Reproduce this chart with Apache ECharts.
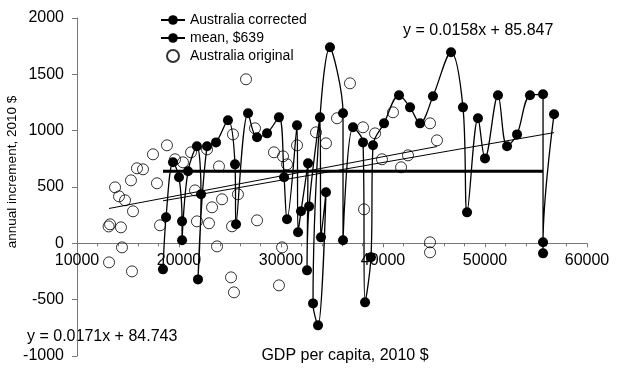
<!DOCTYPE html>
<html>
<head>
<meta charset="utf-8">
<script src="https://cdn.jsdelivr.net/npm/echarts@6/dist/echarts.min.js"></script>
<style>
html,body{margin:0;padding:0;background:#fff;}
#chart{width:618px;height:373px;}
</style>
</head>
<body>
<div id="chart"></div>
<script>
// ---- data ----
const correctedX = [18430,18730,19410,20000,20300,20300,20880,21760,22160,21860,22750,23630,24800,25490,25590,26770,27650,28630,29800,30300,30590,31570,31670,31960,32650,32550,32750,33820,33920,34410,33630,33140,34800,36080,36080,37060,38040,38240,38820,39020,40100,41570,42650,43630,44900,46670,47840,48240,49310,50000,51270,52160,53140,54410,55690,55690,55690,56770];
const correctedY = [-231,231,719,586,195,27,639,861,435,-320,861,896,1092,701,169,1154,941,976,1118,586,213,1047,98,284,710,-240,328,1118,53,453,-728,-533,1740,1154,27,1030,896,-524,-124,870,1065,1314,1207,1065,1305,1696,1207,275,1110,754,1314,861,967,1314,1323,-89,9,1145];
const originalX = [13140,13100,13240,13730,14120,14310,14410,14710,15290,15390,15490,15880,16470,17450,17840,18140,18820,19610,20390,21180,21570,21760,22750,22940,23240,23730,23920,24220,25200,25290,25100,25390,25780,26570,27450,27650,29310,30200,30590,30100,29800,31570,33430,34410,35490,36760,38040,39220,38140,39900,40980,41770,42450,44610,45290,44610,44610];
const originalY = [-169,150,169,497,417,142,-36,382,559,-249,284,666,657,790,533,160,870,746,719,808,470,195,834,178,320,-27,683,391,151,967,-302,-435,435,1456,1021,204,808,772,701,-36,-373,870,985,888,1110,1420,1030,976,302,746,1163,675,781,1065,914,9,-80];
const meanValue = 639;
const meanRange = [18430, 55690];
const trendCorrected = {slope: 0.0158, intercept: 85.847, range: [18430, 56770], label: 'y = 0.0158x + 85.847'};
const trendOriginal = {slope: 0.0171, intercept: 84.743, range: [13140, 45290], label: 'y = 0.0171x + 84.743'};
const xTicks = {min: 10000, max: 60000, interval: 10000};
const yTicks = {min: -1000, max: 2000, interval: 500};
const legendNames = ['Australia corrected', 'mean, $639', 'Australia original'];

const pairs = (xs, ys) => xs.map((x, i) => [x, ys[i]]);
const trendPts = t => t.range.map(x => [x, t.slope * x + t.intercept]);

const FONT = 'Liberation Sans, Arial, sans-serif';
const GRID = {left: 77, right: 31, top: 18, bottom: 17};
const plotH = 373 - GRID.top - GRID.bottom;
// distance (px) from the bottom of the plot up to the y = 0 line, from the y scale
const zeroOffset = plotH * (0 - yTicks.min) / (yTicks.max - yTicks.min);

const chart = echarts.init(document.getElementById('chart'), null, {renderer: 'canvas'});
chart.setOption({
  animation: false,
  backgroundColor: '#fff',
  grid: Object.assign({containLabel: false, outerBoundsMode: 'none'}, GRID),
  legend: {
    data: legendNames,
    orient: 'vertical',
    left: 155, top: 8,
    itemWidth: 24, itemHeight: 12, itemGap: 4,
    textStyle: {fontFamily: FONT, fontSize: 14, color: '#000'}
  },
  xAxis: {
    type: 'value', min: xTicks.min, max: xTicks.max, interval: xTicks.interval,
    position: 'bottom', offset: -zeroOffset,
    splitLine: {show: false},
    axisLine: {onZero: false, lineStyle: {color: '#777', width: 1}},
    axisTick: {show: true, length: 4, lineStyle: {color: '#777'}},
    minorTick: {show: true, splitNumber: 5, length: 3, lineStyle: {color: '#777'}},
    axisLabel: {fontFamily: FONT, fontSize: 16, color: '#000', margin: 9, formatter: v => String(v)},
    name: 'GDP per capita, 2010 $', nameLocation: 'middle', nameGap: 104, nameMoveOverlap: false,
    nameTextStyle: {fontFamily: FONT, fontSize: 16, color: '#000', padding: [0,0,0,26]}
  },
  yAxis: {
    type: 'value', min: yTicks.min, max: yTicks.max, interval: yTicks.interval,
    splitLine: {show: false},
    axisLine: {show: true, onZero: false, lineStyle: {color: '#777', width: 1}},
    axisTick: {show: true, length: 5, lineStyle: {color: '#777'}},
    axisLabel: {fontFamily: FONT, fontSize: 16, color: '#000', margin: 13, formatter: v => String(v)},
    name: 'annual increment, 2010 $', nameLocation: 'middle', nameGap: 58, nameMoveOverlap: false,
    nameTextStyle: {fontFamily: FONT, fontSize: 13.5, color: '#000', padding: [0,0,0,30]}
  },
  series: [
    {
      name: legendNames[0], type: 'line', data: pairs(correctedX, correctedY),
      smooth: 0.35, symbol: 'circle', symbolSize: 10, showAllSymbol: true,
      lineStyle: {color: '#000', width: 1.3},
      itemStyle: {color: '#000'}, z: 3
    },
    {
      name: legendNames[1], type: 'line', data: meanRange.map(x => [x, meanValue]),
      symbol: 'none', lineStyle: {color: '#000', width: 3}, itemStyle: {color: '#000'}, z: 2
    },
    {
      name: legendNames[2], type: 'scatter', data: pairs(originalX, originalY),
      symbol: 'circle', symbolSize: 11,
      itemStyle: {color: 'rgba(255,255,255,0)', borderColor: '#000', borderWidth: 1}, z: 4
    },
    {
      name: 'trend corrected', type: 'line', data: trendPts(trendCorrected),
      symbol: 'none', lineStyle: {color: '#000', width: 1}, z: 2
    },
    {
      name: 'trend original', type: 'line', data: trendPts(trendOriginal),
      symbol: 'none', lineStyle: {color: '#000', width: 1}, z: 2
    }
  ],
  graphic: [
    {type: 'text', left: 403, top: 23, style: {text: trendCorrected.label, font: '16px ' + FONT, fill: '#000'}},
    {type: 'text', left: 27, top: 329, style: {text: trendOriginal.label, font: '16px ' + FONT, fill: '#000'}}
  ]
});
</script>
</body>
</html>
